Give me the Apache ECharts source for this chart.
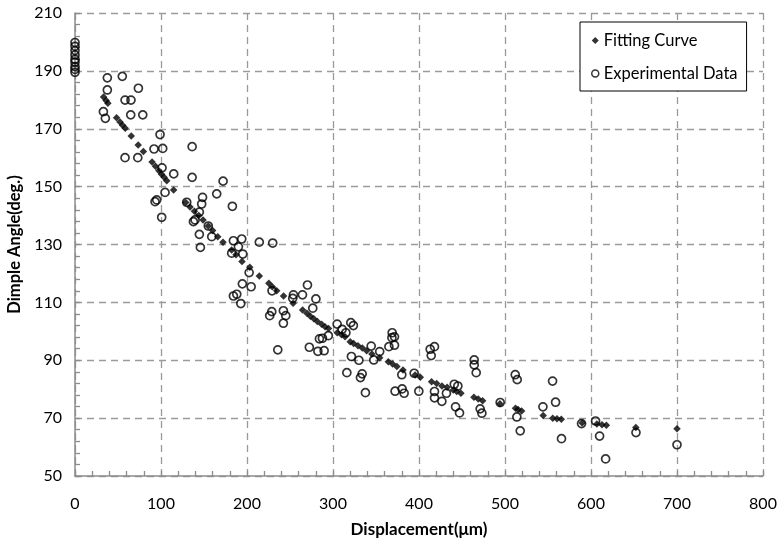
<!DOCTYPE html>
<html>
<head>
<meta charset="utf-8">
<script src="https://cdn.jsdelivr.net/npm/echarts@6/dist/echarts.min.js"></script>
<style>
html, body { margin: 0; padding: 0; background: #fff; }
#chart { width: 777px; height: 539px; }
</style>
</head>
<body>
<div id="chart"></div>
<script>
// experimental points
let expX = [0, 0, 0, 0, 0, 0, 0, 0, 0,
    37.6, 55.0, 37.6, 73.7, 58.2, 65.1, 33.0, 35.3, 64.8, 78.8,
    98.9, 91.9, 102.0, 136.2, 58.2, 73.0, 101.2, 114.8, 136.2, 172.2,
    104.7, 148.3, 164.8, 147.3, 129.9, 183.0, 100.8, 144.6, 137.7, 139.6,
    93.1, 95.0, 155.0, 159.0, 144.6, 145.8, 184.2, 193.9, 190.0, 214.3,
    229.9, 182.2, 195.1, 202.5, 204.8, 194.6, 184.2, 188.1, 192.8, 229.1,
    226.4, 228.8, 242.3, 245.1, 242.3, 254.0, 253.2, 264.5, 270.3, 280.1,
    276.5, 235.8, 272.5, 282.4, 289.7, 284.2, 287.7, 294.6, 304.8, 310.6,
    315.0, 320.7, 323.7, 321.4, 330.1, 316.1, 333.9, 331.9, 337.7, 344.4,
    354.3, 347.4, 368.8, 368.5, 371.5, 365.0, 371.5, 380.0, 372.2, 380.4,
    382.7, 399.8, 394.4, 413.0, 418.0, 414.2, 418.0, 418.0, 426.6, 431.9,
    441.0, 445.2, 442.5, 447.1, 464.2, 464.2, 466.5, 471.1, 473.1, 494.4,
    511.9, 514.2, 513.8, 517.7, 555.3, 558.8, 544.1, 565.7, 589.0, 605.3,
    610.0, 617.0, 652.3, 700.0]
let expY = [199.8, 198.5, 197, 195.5, 194, 193, 191.5, 190.5, 189.5,
    187.6, 188.1, 183.4, 184.0, 179.9, 179.9, 175.9, 173.6, 174.8, 174.8,
    168.0, 163.0, 163.2, 163.8, 160.0, 160.0, 156.5, 154.4, 153.2, 151.9,
    148.0, 146.3, 147.5, 144.0, 144.6, 143.2, 139.4, 141.2, 137.9, 138.5,
    144.8, 145.4, 136.4, 132.7, 133.5, 129.0, 131.3, 131.9, 129.2, 130.8,
    130.5, 127.0, 126.7, 120.3, 115.4, 116.4, 112.2, 112.8, 109.6, 114.0,
    105.4, 106.8, 107.1, 105.4, 102.8, 112.6, 111.4, 112.6, 116.0, 111.2,
    108.0, 93.6, 94.5, 93.1, 93.3, 97.4, 97.6, 98.5, 102.5, 100.7,
    99.5, 103.0, 102.0, 91.3, 90.0, 85.7, 85.3, 84.0, 78.8, 94.9,
    93.0, 90.1, 99.5, 97.8, 98.1, 94.7, 95.2, 85.0, 79.3, 80.1,
    78.6, 79.3, 85.5, 93.8, 94.7, 91.6, 79.2, 77.0, 75.8, 78.6,
    81.7, 81.1, 73.9, 71.8, 90.1, 88.4, 85.7, 73.2, 71.7, 75.4,
    85.0, 83.3, 70.4, 65.6, 82.8, 75.5, 73.9, 62.9, 68.1, 69.0,
    63.8, 55.9, 65.0, 60.8]

// fitted curve points
let fitX = [33.2, 36.2, 38.2, 48.3, 52.3, 55.3, 58.4, 65.4, 73.5, 79.5, 89.6, 93.6, 97.6,
    100.6, 103.6, 106.7, 114.7, 128.8, 133.8, 138.9, 143.9, 148.9, 155.0, 160.0, 166.0,
    172.1, 182.1, 187.2, 194.2, 203.3, 214.3, 225.4, 229.4, 234.5, 242.5, 253.6, 264.7,
    269.7, 273.7, 277.7, 281.8, 286.8, 290.8, 294.8, 304.9, 309.9, 314.0, 320.0, 324.0,
    329.1, 334.1, 339.1, 345.2, 354.2, 364.3, 369.3, 374.3, 381.4, 395.5, 401.5, 414.6,
    420.6, 426.7, 432.7, 439.8, 443.8, 448.8, 463.9, 468.9, 474.0, 494.1, 512.2, 515.2,
    519.3, 544.4, 555.5, 560.5, 565.5, 589.7, 606.8, 612.8, 617.9, 652.1, 700.0]
let fitY = [181, 179.8, 178.8, 173.8, 172.3, 171.2, 170.2, 167.5, 164.4, 162.1, 158.5,
    157, 155.5, 154.3, 153.2, 152.0, 148.8, 144.5, 143, 141.5, 140, 138.5, 136.4, 134.8,
    132.7, 130.8, 128.1, 126.5, 124.1, 122.1, 119.1, 116.6, 115.4, 114.0, 112.2, 109.7,
    107.4, 106.2, 105.2, 104.3, 103.4, 102.4, 101.6, 101.0, 99.5, 98.8, 98.1, 96.4,
    95.8, 95.0, 94.2, 93.3, 92.2, 90.9, 89.5, 88.7, 87.8, 86.6, 84.9, 84.1, 82.6, 82.0,
    81.1, 80.7, 79.7, 79.2, 78.6, 77.2, 76.6, 76.0, 75.0, 73.4, 73.0, 72.5, 70.9, 70.0,
    69.8, 69.6, 68.3, 68.0, 67.7, 67.5, 66.8, 66.3]

let xTicks = { min: 0, max: 800, interval: 100 }
let yTicks = { min: 50, max: 210, interval: 20 }

let expData = expX.map((x, i) => [x, expY[i]])
let fitData = fitX.map((x, i) => [x, fitY[i]])

let font = 'Lato, "Open Sans", sans-serif'
let gridLine = { show: true, lineStyle: { color: '#9a9a9a', width: 1.3, type: [7, 5] } }
let axisLine = { show: true, lineStyle: { color: '#8c8c8c', width: 1.5 } }

let option = {
    backgroundColor: '#fff',
    animation: false,
    grid: {
        left: 75,
        right: 14,
        top: 13,
        bottom: 63,
        outerBoundsMode: 'none'
    },
    legend: {
        orient: 'vertical',
        left: 580,
        top: 22,
        padding: [10, 9, 9, 11],
        itemGap: 16,
        itemWidth: 7,
        itemHeight: 7,
        borderColor: '#000',
        borderWidth: 1,
        backgroundColor: '#fff',
        textStyle: { color: '#000', fontSize: 16.5, fontFamily: font },
        data: [
            { name: 'Fitting Curve', icon: 'diamond', itemStyle: { color: '#000' } },
            { name: 'Experimental Data', icon: 'circle', itemStyle: { color: 'transparent', borderColor: '#000', borderWidth: 1.5 } }
        ]
    },
    xAxis: {
        type: 'value',
        min: xTicks.min,
        max: xTicks.max,
        interval: xTicks.interval,
        name: 'Displacement(μm)',
        nameLocation: 'middle',
        nameGap: 45,
        nameTextStyle: { color: '#000', fontSize: 17, fontWeight: 'bold', fontFamily: font },
        axisLine: axisLine,
        axisTick: { show: true, inside: true, length: 5, lineStyle: { color: '#8c8c8c', width: 1.3 } },
        minorTick: { show: true, splitNumber: 5, length: 5, lineStyle: { color: '#8c8c8c', width: 1.3 } },
        axisLabel: { color: '#000', fontSize: 16, margin: 20, fontFamily: font },
        splitLine: gridLine
    },
    yAxis: {
        type: 'value',
        min: yTicks.min,
        max: yTicks.max,
        interval: yTicks.interval,
        name: 'Dimple Angle(deg.)',
        nameLocation: 'middle',
        nameGap: 50,
        nameTextStyle: { color: '#000', fontSize: 16.5, fontWeight: 'bold', fontFamily: font },
        axisLine: axisLine,
        axisTick: { show: true, inside: true, length: 5, lineStyle: { color: '#8c8c8c', width: 1.3 } },
        minorTick: { show: true, splitNumber: 5, length: 5, lineStyle: { color: '#8c8c8c', width: 1.3 } },
        axisLabel: { color: '#000', fontSize: 16, margin: 13, fontFamily: font },
        splitLine: gridLine
    },
    series: [
        {
            name: 'Fitting Curve',
            type: 'scatter',
            symbol: 'diamond',
            symbolSize: 7.5,
            itemStyle: { color: '#000' },
            data: fitData,
            z: 2
        },
        {
            name: 'Experimental Data',
            type: 'scatter',
            symbol: 'circle',
            symbolSize: 8,
            itemStyle: { color: 'transparent', borderColor: '#000', borderWidth: 1.7 },
            data: expData,
            z: 3
        }
    ]
}

var myChart = echarts.init(document.getElementById('chart'))
myChart.setOption(option)
window.addEventListener('resize', function() {
    myChart.resize()
})
</script>
</body>
</html>
